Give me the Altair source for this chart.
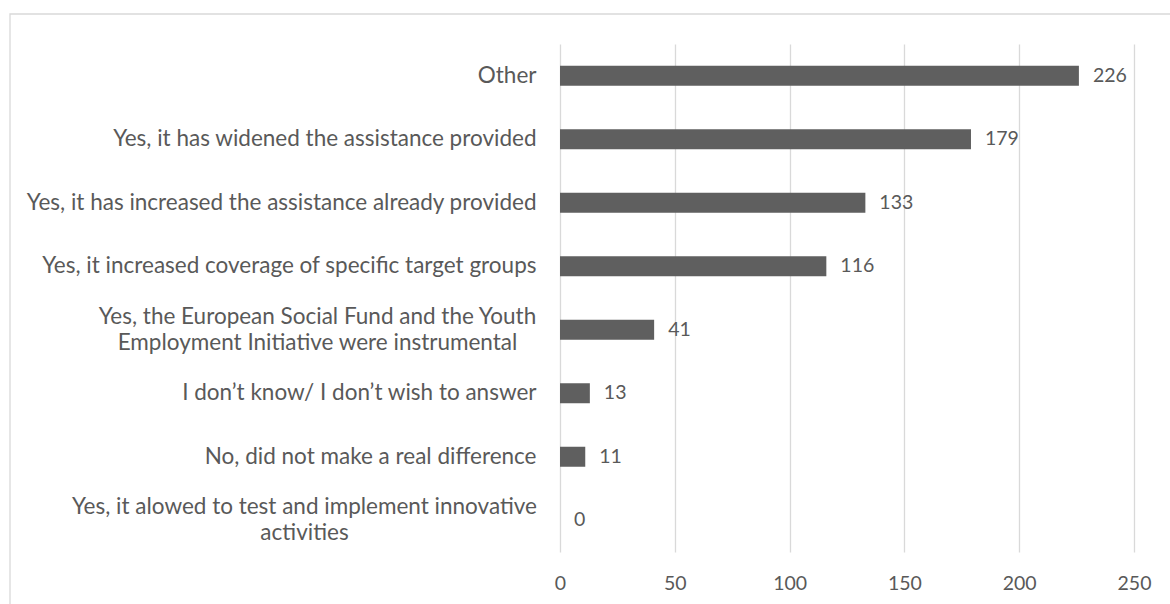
import altair as alt
import pandas as pd

categories = [
    "Other",
    "Yes, it has widened the assistance provided",
    "Yes, it has increased the assistance already provided",
    "Yes, it increased coverage of specific target groups",
    "Yes, the European Social Fund and the Youth|Employment Initiative were instrumental",
    "I don\u2019t know/ I don\u2019t wish to answer",
    "No, did not make a real difference",
    "Yes, it alowed to test and implement innovative|activities",
]
values = [226, 179, 133, 116, 41, 13, 11, 0]
x_ticks = [0, 50, 100, 150, 200, 250]

df = pd.DataFrame({"category": categories, "value": values})

FONT = "Lato"
TXT = "#595959"

multi = "indexof(datum.label, '|') >= 0"
esf = "indexof(datum.label, 'European') >= 0"

y_enc = alt.Y(
    "category:N",
    sort=categories,
    scale=alt.Scale(paddingInner=0.685, paddingOuter=0.3425),
    axis=alt.Axis(
        title=None,
        domain=False,
        ticks=False,
        labelPadding={
            "condition": [
                {"test": esf, "value": 243},
                {"test": multi, "value": 256},
            ],
            "value": 24,
        },
        labelAlign=alt.condition(multi, alt.value("center"), alt.value("right")),
        labelFont=FONT,
        labelFontSize=22.5,
        labelColor=TXT,
        labelLimit=0,
        labelLineHeight=26,
        labelOffset=alt.condition(multi, alt.value(-13), alt.value(0)),
        labelExpr="split(datum.label, '|')",
    ),
)

x_enc = alt.X(
    "value:Q",
    scale=alt.Scale(domain=[0, 250], nice=False),
    axis=alt.Axis(
        title=None,
        values=x_ticks,
        domain=False,
        ticks=False,
        grid=True,
        gridColor="#d9d9d9",
        gridWidth=1.3,
        labelPadding=22,
        labelFlush=False,
        labelFont=FONT,
        labelFontSize=19.5,
        labelColor=TXT,
    ),
)

bars = alt.Chart(df).mark_bar(color="#5f5f5f").encode(x=x_enc, y=y_enc)

labels = alt.Chart(df).mark_text(
    align="left", baseline="middle", dx=14, font=FONT, fontSize=19.5, color=TXT
).encode(x="value:Q", y=alt.Y("category:N", sort=categories), text="value:Q")

border = alt.Chart(pd.DataFrame({"a": [0]})).mark_rect(
    fill=None, stroke="#d9d9d9", strokeWidth=1.3
).encode(
    x=alt.value(-550), x2=alt.value(700), y=alt.value(-30), y2=alt.value(700)
)

chart = (
    alt.layer(border, bars, labels)
    .properties(
        width=574,
        height=508,
        padding={"left": 560, "top": 44, "right": 36, "bottom": 52},
        autosize=alt.AutoSizeParams(type="none"),
        background="white",
    )
    .configure_view(stroke=None)
)

chart.save("out.html", embed_options={"renderer": "svg", "actions": False})
